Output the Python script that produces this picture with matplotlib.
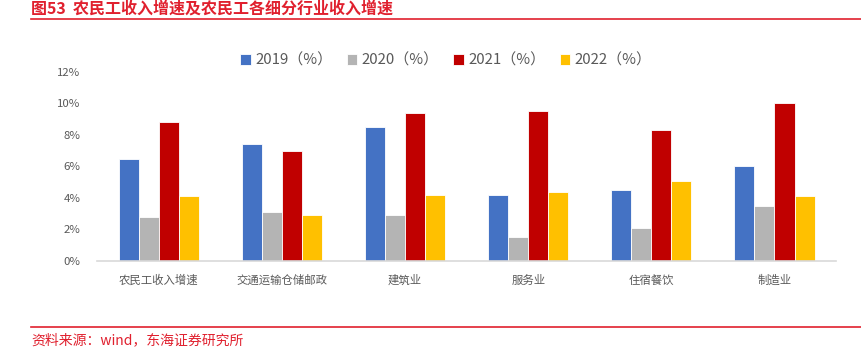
import matplotlib
matplotlib.use("Agg")
import matplotlib.pyplot as plt
import numpy as np
from matplotlib.lines import Line2D

plt.rcParams['font.family'] = ['Noto Sans CJK SC', 'DejaVu Sans']

categories = ["农民工收入增速", "交通运输仓储邮政", "建筑业", "服务业", "住宿餐饮", "制造业"]
series_names = ["2019（%）", "2020（%）", "2021（%）", "2022（%）"]
v2019 = [6.5, 7.4, 8.5, 4.2, 4.5, 6.0]
v2020 = [2.8, 3.1, 2.9, 1.5, 2.1, 3.5]
v2021 = [8.8, 7.0, 9.4, 9.5, 8.3, 10.0]
v2022 = [4.1, 2.9, 4.2, 4.4, 5.1, 4.1]
colors = ["#4472C4", "#B4B4B4", "#C00000", "#FFC000"]
yticks = [0, 2, 4, 6, 8, 10, 12]

fig = plt.figure(figsize=(8.61, 3.47), dpi=100)
ax = fig.add_axes([0.113, 0.248, 0.858, 0.545])

x = np.arange(len(categories))
w = 0.163
for i, (vals, c) in enumerate(zip([v2019, v2020, v2021, v2022], colors)):
    ax.bar(x + (i - 1.5) * w, vals, width=w, color=c, edgecolor="white",
           linewidth=0.6, label=series_names[i], zorder=2)

ax.set_xlim(-0.5, len(categories) - 0.5)
ax.set_ylim(0, 12)
ax.set_yticks(yticks)
ax.set_yticklabels([f"{t}%" for t in yticks])
ax.set_xticks(x)
ax.set_xticklabels(categories)
ax.tick_params(axis="both", length=0, labelsize=8.2, colors="#595959")
ax.tick_params(axis="x", pad=10)
ax.tick_params(axis="y", pad=12)
for s in ["top", "right", "left"]:
    ax.spines[s].set_visible(False)
ax.spines["bottom"].set_color("#D9D9D9")
ax.spines["bottom"].set_linewidth(1.2)

leg = ax.legend(loc="center", bbox_to_anchor=(0.472, 1.06), ncol=4,
                frameon=False, fontsize=10.8, handlelength=0.7, handleheight=0.7,
                handletextpad=0.3, columnspacing=0.95, borderaxespad=0.0)
for t in leg.get_texts():
    t.set_color("#595959")

red = "#E0202E"
fig.text(0.036, 0.998, "图53  农民工收入增速及农民工各细分行业收入增速", color=red,
         fontsize=11.5, fontweight="bold", va="top", ha="left")
fig.add_artist(Line2D([0.036, 1.0], [0.945, 0.945], color=red, linewidth=1.2))
fig.add_artist(Line2D([0.036, 1.0], [0.058, 0.058], color=red, linewidth=1.2))
fig.text(0.036, 0.04, "资料来源：wind，东海证券研究所", color=red, fontsize=10,
         va="top", ha="left")

fig.savefig("out.png", dpi=100)
